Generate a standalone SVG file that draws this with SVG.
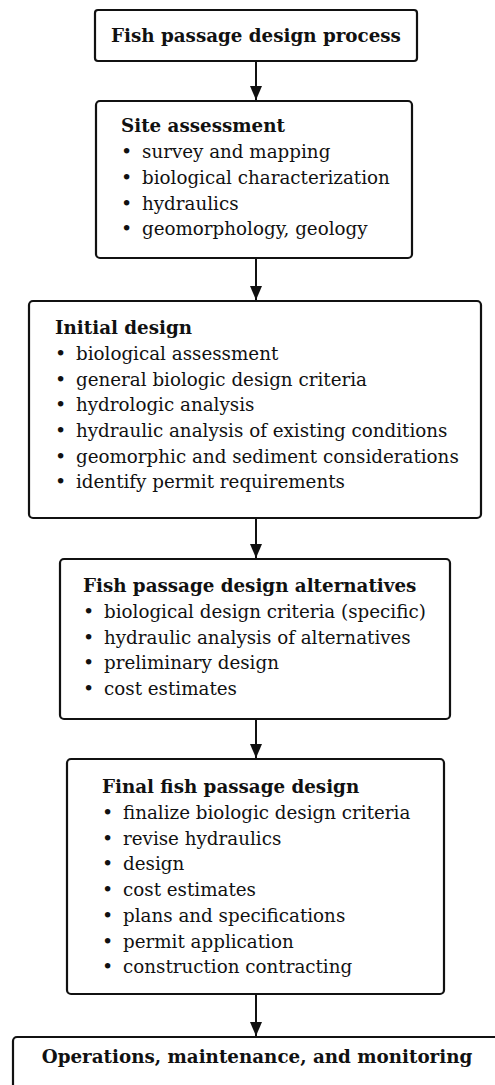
<svg xmlns="http://www.w3.org/2000/svg" width="495" height="1085" viewBox="0 0 495 1085">
<style>
.box{fill:#fff;stroke:#111;stroke-width:2.2}
.h{font-family:"DejaVu Serif","Liberation Serif",serif;font-weight:bold;font-size:18.3px;fill:#111}
.t{font-family:"DejaVu Serif","Liberation Serif",serif;font-size:18.3px;fill:#111}
.b{font-family:"DejaVu Serif","Liberation Serif",serif;font-size:19px;fill:#111}
.c{text-anchor:middle}
.edge{stroke:#111;stroke-width:2;fill:none}
</style>
<defs>
<marker id="ah" viewBox="0 0 14 12" refX="14" refY="6" markerWidth="14" markerHeight="12" markerUnits="userSpaceOnUse" orient="auto">
<path d="M0,0 L14,6 L0,12 Z" fill="#111"/>
</marker>
</defs>
<rect width="495" height="1085" fill="#fff"/>
<g id="connectors">
<line class="edge" x1="256" y1="61" x2="256" y2="100" marker-end="url(#ah)"/>
<line class="edge" x1="256" y1="258" x2="256" y2="300" marker-end="url(#ah)"/>
<line class="edge" x1="256" y1="518" x2="256" y2="558" marker-end="url(#ah)"/>
<line class="edge" x1="256" y1="719" x2="256" y2="758" marker-end="url(#ah)"/>
<line class="edge" x1="256" y1="994" x2="256" y2="1036" marker-end="url(#ah)"/>
</g>
<g id="n1">
<rect class="box" x="95" y="10" width="322" height="51" rx="3"/>
<text class="h c" x="256" y="42">Fish passage design process</text>
</g>
<g id="n2">
<rect class="box" x="96" y="101" width="316" height="157" rx="4"/>
<text class="h" x="121" y="132">Site assessment</text>
<text class="b" x="121" y="158">•</text><text class="t" x="142" y="158">survey and mapping</text>
<text class="b" x="121" y="184">•</text><text class="t" x="142" y="184">biological characterization</text>
<text class="b" x="121" y="210">•</text><text class="t" x="142" y="210">hydraulics</text>
<text class="b" x="121" y="235">•</text><text class="t" x="142" y="235">geomorphology, geology</text>
</g>
<g id="n3">
<rect class="box" x="29" y="301" width="452" height="217" rx="4"/>
<text class="h" x="55" y="334">Initial design</text>
<text class="b" x="55" y="360">•</text><text class="t" x="76" y="360">biological assessment</text>
<text class="b" x="55" y="386">•</text><text class="t" x="76" y="386">general biologic design criteria</text>
<text class="b" x="55" y="411">•</text><text class="t" x="76" y="411">hydrologic analysis</text>
<text class="b" x="55" y="437">•</text><text class="t" x="76" y="437">hydraulic analysis of existing conditions</text>
<text class="b" x="55" y="463">•</text><text class="t" x="76" y="463">geomorphic and sediment considerations</text>
<text class="b" x="55" y="488">•</text><text class="t" x="76" y="488">identify permit requirements</text>
</g>
<g id="n4">
<rect class="box" x="60" y="559" width="390" height="160" rx="4"/>
<text class="h" x="83" y="592">Fish passage design alternatives</text>
<text class="b" x="83" y="618">•</text><text class="t" x="104" y="618">biological design criteria (specific)</text>
<text class="b" x="83" y="644">•</text><text class="t" x="104" y="644">hydraulic analysis of alternatives</text>
<text class="b" x="83" y="669">•</text><text class="t" x="104" y="669">preliminary design</text>
<text class="b" x="83" y="695">•</text><text class="t" x="104" y="695">cost estimates</text>
</g>
<g id="n5">
<rect class="box" x="67" y="759" width="377" height="235" rx="4"/>
<text class="h" x="102" y="793">Final fish passage design</text>
<text class="b" x="102" y="819">•</text><text class="t" x="123" y="819">finalize biologic design criteria</text>
<text class="b" x="102" y="845">•</text><text class="t" x="123" y="845">revise hydraulics</text>
<text class="b" x="102" y="870">•</text><text class="t" x="123" y="870">design</text>
<text class="b" x="102" y="896">•</text><text class="t" x="123" y="896">cost estimates</text>
<text class="b" x="102" y="922">•</text><text class="t" x="123" y="922">plans and specifications</text>
<text class="b" x="102" y="948">•</text><text class="t" x="123" y="948">permit application</text>
<text class="b" x="102" y="973">•</text><text class="t" x="123" y="973">construction contracting</text>
</g>
<g id="n6">
<rect class="box" x="13" y="1037" width="500" height="70" rx="4"/>
<text class="h c" x="257" y="1063">Operations, maintenance, and monitoring</text>
</g>
</svg>
